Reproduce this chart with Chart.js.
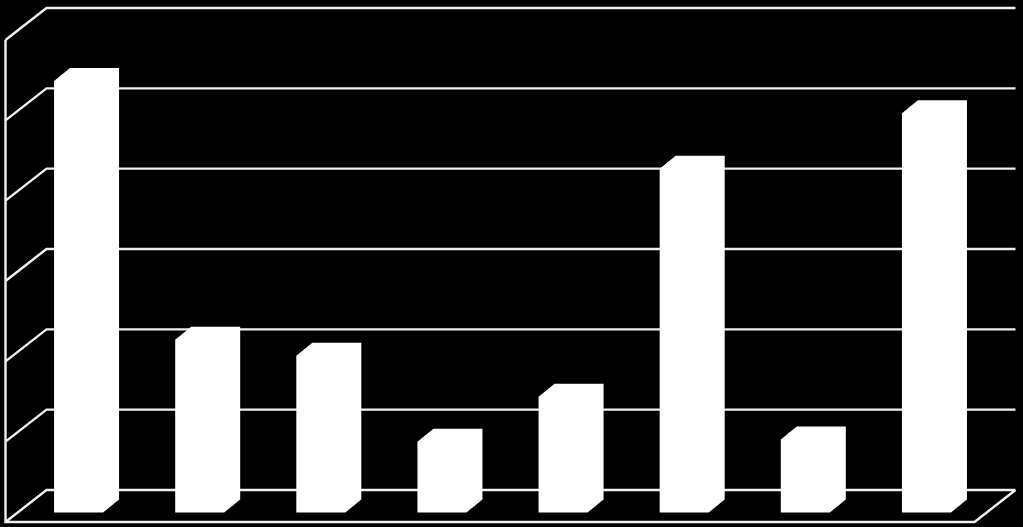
<!DOCTYPE html>
<html>
<head>
<meta charset="utf-8">
<title>Chart</title>
<script src="https://cdn.jsdelivr.net/npm/chart.js@4/dist/chart.umd.min.js"></script>
<style>
    html, body { margin: 0; padding: 0; background: #000; }
    canvas { display: block; }
</style>
</head>
<body>
<canvas id="barChart" width="1023" height="527"></canvas>
<script>
// the picture has no text at all, so categories are just positions
const categories = ['1', '2', '3', '4', '5', '6', '7', '8'];
const values = [5.37, 2.15, 1.95, 0.88, 1.44, 4.28, 0.91, 4.97];
const axisMax = 6;

// fake 3D: half of the depth offset of the box and of the bars
const wallDx = 20.5, wallDy = 16;
const barDx = 8, barDy = 6.5;
const lineColor = '#f0f0f0';

const box3d = {
    id: 'box3d',
    beforeDatasetsDraw(chart) {
        const { ctx, scales: { x, y }, chartArea: area } = chart;
        ctx.save();
        ctx.strokeStyle = lineColor;
        ctx.lineWidth = 2.4;
        ctx.lineJoin = 'miter';
        ctx.beginPath();
        // grid on the back wall and on the left wall
        y.ticks.forEach(t => {
            const py = y.getPixelForValue(t.value);
            ctx.moveTo(area.right + wallDx, py - wallDy);
            ctx.lineTo(area.left + wallDx, py - wallDy);
            ctx.lineTo(area.left - wallDx, py + wallDy);
        });
        // left edge and floor
        const bottom = y.getPixelForValue(0), top = y.getPixelForValue(axisMax);
        ctx.moveTo(area.left - wallDx, top + wallDy);
        ctx.lineTo(area.left - wallDx, bottom + wallDy);
        ctx.lineTo(area.right - wallDx, bottom + wallDy);
        ctx.lineTo(area.right + wallDx, bottom - wallDy);
        ctx.stroke();
        ctx.restore();
    },
    afterDatasetsDraw(chart) {
        const { ctx } = chart;
        ctx.save();
        ctx.fillStyle = '#ffffff';
        chart.getDatasetMeta(0).data.forEach(bar => {
            const l = bar.x - bar.width / 2, r = bar.x + bar.width / 2;
            ctx.beginPath();
            ctx.moveTo(l - barDx, bar.base + barDy);
            ctx.lineTo(r - barDx, bar.base + barDy);
            ctx.lineTo(r + barDx, bar.base - barDy);
            ctx.lineTo(r + barDx, bar.y - barDy);
            ctx.lineTo(l + barDx, bar.y - barDy);
            ctx.lineTo(l - barDx, bar.y + barDy);
            ctx.closePath();
            ctx.fill();
        });
        ctx.restore();
    }
};

new Chart('barChart', {
    type: 'bar',
    data: {
        labels: categories,
        datasets: [{
            data: values,
            backgroundColor: '#ffffff',
            barThickness: 49
        }]
    },
    options: {
        responsive: false,
        animation: false,
        layout: { padding: { left: 26, right: 28, top: 24, bottom: 21 } },
        plugins: { legend: { display: false }, tooltip: { enabled: false } },
        scales: {
            x: { display: false },
            y: { display: false, min: 0, max: axisMax, ticks: { stepSize: 1 } }
        }
    },
    plugins: [box3d]
});
</script>
</body>
</html>
